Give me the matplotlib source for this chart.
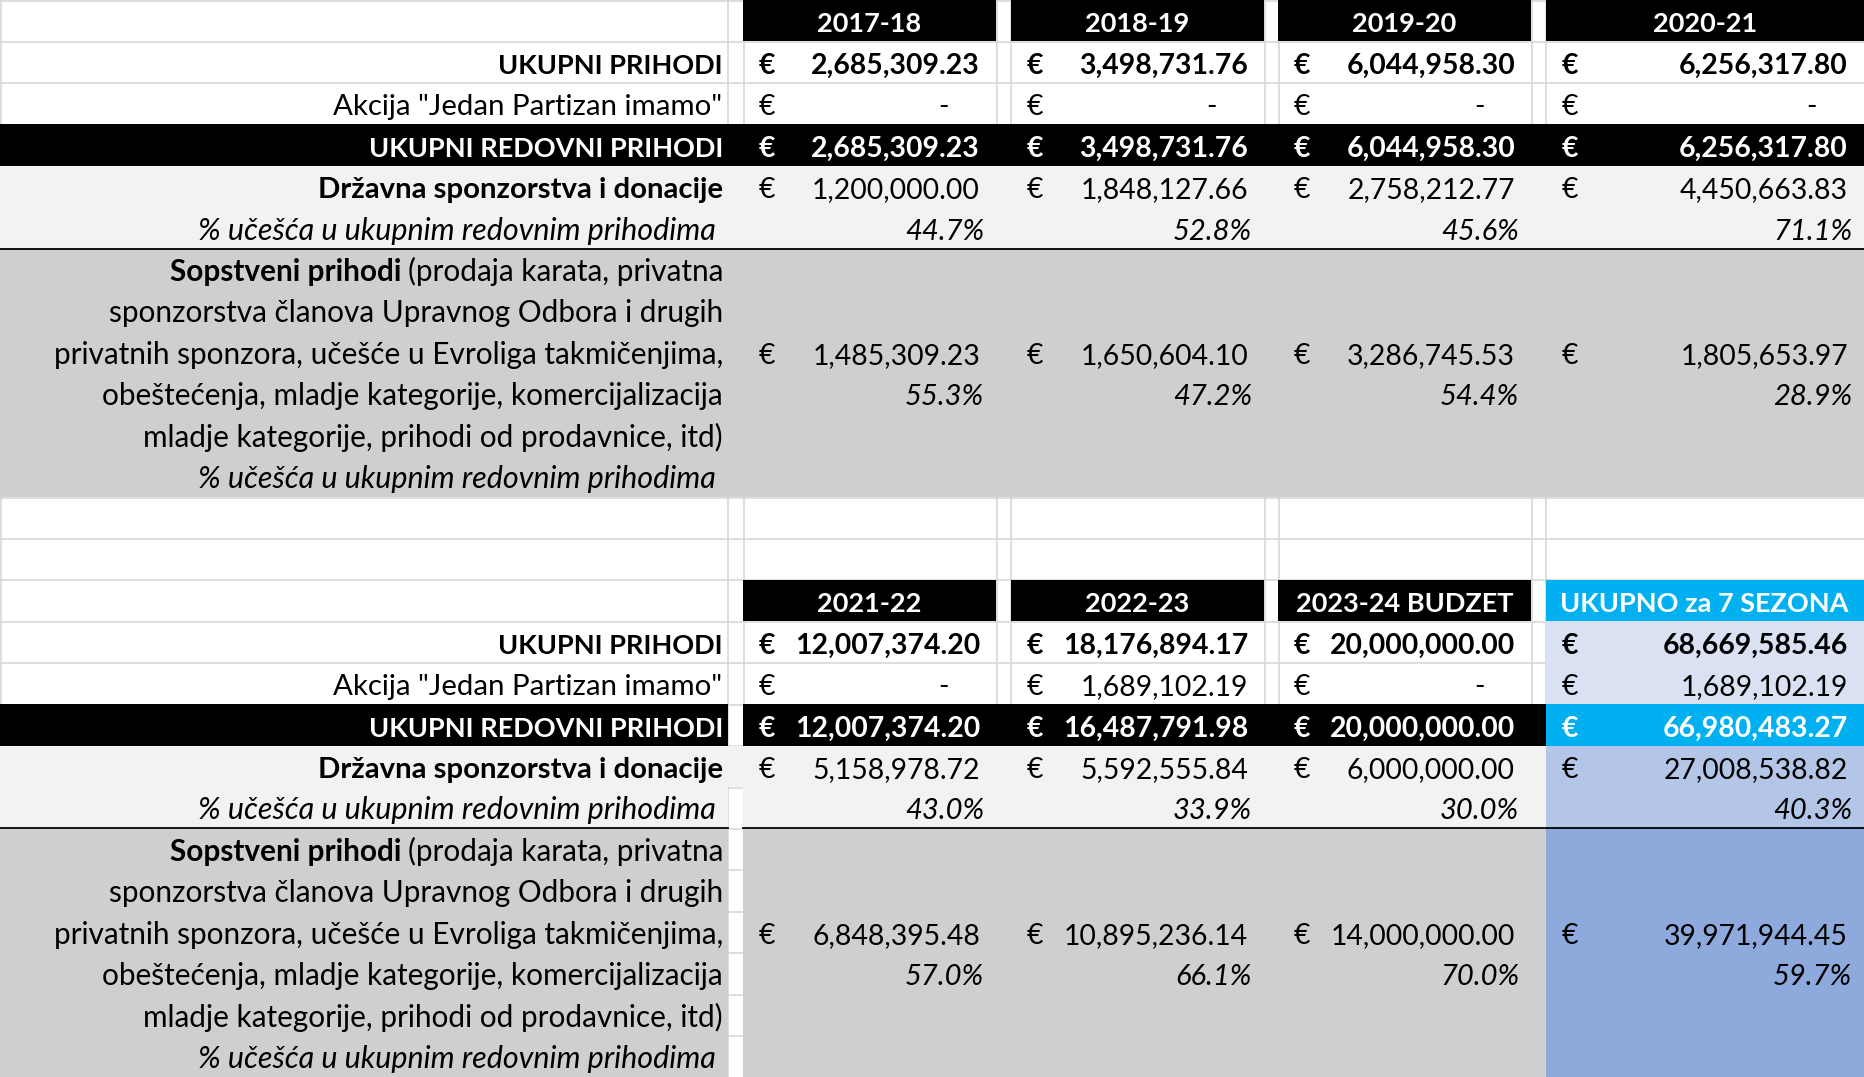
import matplotlib
matplotlib.use("Agg")
import matplotlib.pyplot as plt
from matplotlib.patches import Rectangle

plt.rcParams['font.family'] = ['Lato', 'DejaVu Sans']

# === podaci ===
sezone_gore = ["2017-18", "2018-19", "2019-20", "2020-21"]
sezone_dole = ["2021-22", "2022-23", "2023-24 BUDZET", "UKUPNO za 7 SEZONA"]

ukupni_prihodi = [2685309.23, 3498731.76, 6044958.30, 6256317.80,
                  12007374.20, 18176894.17, 20000000.00, 68669585.46]
akcija = [0, 0, 0, 0, 0, 1689102.19, 0, 1689102.19]
redovni_prihodi = [2685309.23, 3498731.76, 6044958.30, 6256317.80,
                   12007374.20, 16487791.98, 20000000.00, 66980483.27]
drzavna = [1200000.00, 1848127.66, 2758212.77, 4450663.83,
           5158978.72, 5592555.84, 6000000.00, 27008538.82]
drzavna_pct = [44.7, 52.8, 45.6, 71.1, 43.0, 33.9, 30.0, 40.3]
sopstveni = [1485309.23, 1650604.10, 3286745.53, 1805653.97,
             6848395.48, 10895236.14, 14000000.00, 39971944.45]
sopstveni_pct = [55.3, 47.2, 54.4, 28.9, 57.0, 66.1, 70.0, 59.7]

pct_label = "% učešća u ukupnim redovnim prihodima"
sopstveni_bold = "Sopstveni prihodi"
sopstveni_lines = ["(prodaja karata, privatna",
                   "sponzorstva članova Upravnog Odbora i drugih",
                   "privatnih sponzora, učešće u Evroliga takmičenjima,",
                   "obeštećenja, mladje kategorije, komercijalizacija",
                   "mladje kategorije, prihodi od prodavnice, itd)"]

# === raspored ===
W, H = 1864, 1077
RH = H / 26
X = [0, 727.5, 743, 996, 1010.5, 1264, 1278, 1531, 1545.5, 1864]
FS_CAPS = 19.5   # zaglavlja i natpisi velikim slovima
FS_LBL = 21.2    # obicni natpisi
FS_SOP = 21.45   # opis sopstvenih prihoda
FS_ITAL = 22.0   # kurziv natpisi
FS_NUM = 20.4    # iznosi
FS_PCT = 21.0    # procenti
GRID = "#D4D4D4"
SIVA1 = "#F2F2F2"
SIVA2 = "#D0CECE"
PLAVA = "#00B0F0"
LAV1 = "#D9E1F2"
LAV2 = "#B4C6E7"
LAV3 = "#8EA9DB"

fig = plt.figure(figsize=(W / 100, H / 100), dpi=100)
ax = fig.add_axes([0, 0, 1, 1])
ax.set_xlim(0, W)
ax.set_ylim(H, 0)
ax.axis("off")
renderer = fig.canvas.get_renderer()

# Excel mreža
for i in range(27):
    ax.plot([0, W], [i * RH + 0.5] * 2, color=GRID, lw=1.1, zorder=1)
for x in X:
    ax.plot([x + 0.5] * 2, [0, H], color=GRID, lw=1.1, zorder=1)


def fill(x0, x1, r0, r1, c):
    ax.add_patch(Rectangle((x0, r0 * RH), x1 - x0, (r1 - r0) * RH,
                           facecolor=c, edgecolor="none", zorder=2))


def base(r):
    return (r + 1) * RH - 9


def txt(x, r, s, ha="right", fs=FS_LBL, **kw):
    kw.setdefault("color", "black")
    return ax.text(x, base(r), s, ha=ha, va="baseline", fontsize=fs,
                   zorder=5, **kw)


def col(j):
    return X[2 + 2 * j], X[3 + 2 * j]


def vrednost(j, r, v, bold=False, color="black"):
    x0, x1 = col(j)
    w = "bold" if bold else "normal"
    txt(x0 + 16, r, "€", ha="left", fs=FS_NUM, weight=w, color=color)
    if v == 0:
        txt(x1 - 52, r, "-", ha="center", fs=FS_NUM, weight=w, color=color)
    else:
        txt(x1 - 16, r, f"{v:,.2f}", fs=FS_NUM, weight=w, color=color)


def procenat(j, r, p):
    x0, x1 = col(j)
    txt(x1 - 12, r, f"{p:.1f}%", fs=FS_PCT, style="italic")


# === pozadine ===
# gornji deo
for j in range(4):
    fill(*col(j), 0, 1, "black")
fill(0, W, 3, 4, "black")
fill(0, W, 4, 6, SIVA1)
fill(0, W, 6, 12, SIVA2)
ax.plot([0, W], [6 * RH, 6 * RH], color="black", lw=1.3, zorder=3)

# donji deo
for j in range(3):
    fill(*col(j), 14, 15, "black")
fill(*col(3), 14, 15, PLAVA)
fill(*col(3), 15, 17, LAV1)
fill(0, X[1], 17, 18, "black")
fill(X[2], X[8], 17, 18, "black")
fill(*col(3), 17, 18, PLAVA)
fill(0, X[1], 18, 20, SIVA1)
fill(X[1], X[2], 18, 19, SIVA1)
fill(X[2], X[8], 18, 20, SIVA1)
fill(*col(3), 18, 20, LAV2)
fill(0, X[1], 20, 26, SIVA2)
fill(X[2], X[8], 20, 26, SIVA2)
fill(*col(3), 20, 26, LAV3)
ax.plot([0, X[1]], [20 * RH, 20 * RH], color="black", lw=1.3, zorder=3)
ax.plot([X[2], W], [20 * RH, 20 * RH], color="black", lw=1.3, zorder=3)

# === tekst ===
LX = 723
for s, b in enumerate([0, 14]):
    sezone = sezone_gore if s == 0 else sezone_dole
    for j, naziv in enumerate(sezone):
        x0, x1 = col(j)
        txt((x0 + x1) / 2, b, naziv, ha="center", fs=FS_CAPS,
            weight="bold", color="white")

    txt(LX, b + 1, "UKUPNI PRIHODI", fs=FS_CAPS, weight="bold")
    txt(LX - 1, b + 2, 'Akcija "Jedan Partizan imamo"')
    txt(LX, b + 3, "UKUPNI REDOVNI PRIHODI", fs=FS_CAPS, weight="bold",
        color="white")
    txt(LX, b + 4, "Državna sponzorstva i donacije", weight="bold")
    txt(LX - 7, b + 5, pct_label, fs=FS_ITAL, style="italic")
    for i, line in enumerate(sopstveni_lines):
        t = txt(LX, b + 6 + i, line, fs=FS_SOP)
        if i == 0:
            w = t.get_window_extent(renderer).width
            txt(LX - w - 6, b + 6, sopstveni_bold, fs=FS_SOP, weight="bold")
    txt(LX - 7, b + 11, pct_label, fs=FS_ITAL, style="italic")

    for j in range(4):
        k = 4 * s + j
        vrednost(j, b + 1, ukupni_prihodi[k], bold=True)
        vrednost(j, b + 2, akcija[k])
        vrednost(j, b + 3, redovni_prihodi[k], bold=True, color="white")
        vrednost(j, b + 4, drzavna[k])
        procenat(j, b + 5, drzavna_pct[k])
        vrednost(j, b + 8, sopstveni[k])
        procenat(j, b + 9, sopstveni_pct[k])

fig.savefig("out.png", dpi=100)
